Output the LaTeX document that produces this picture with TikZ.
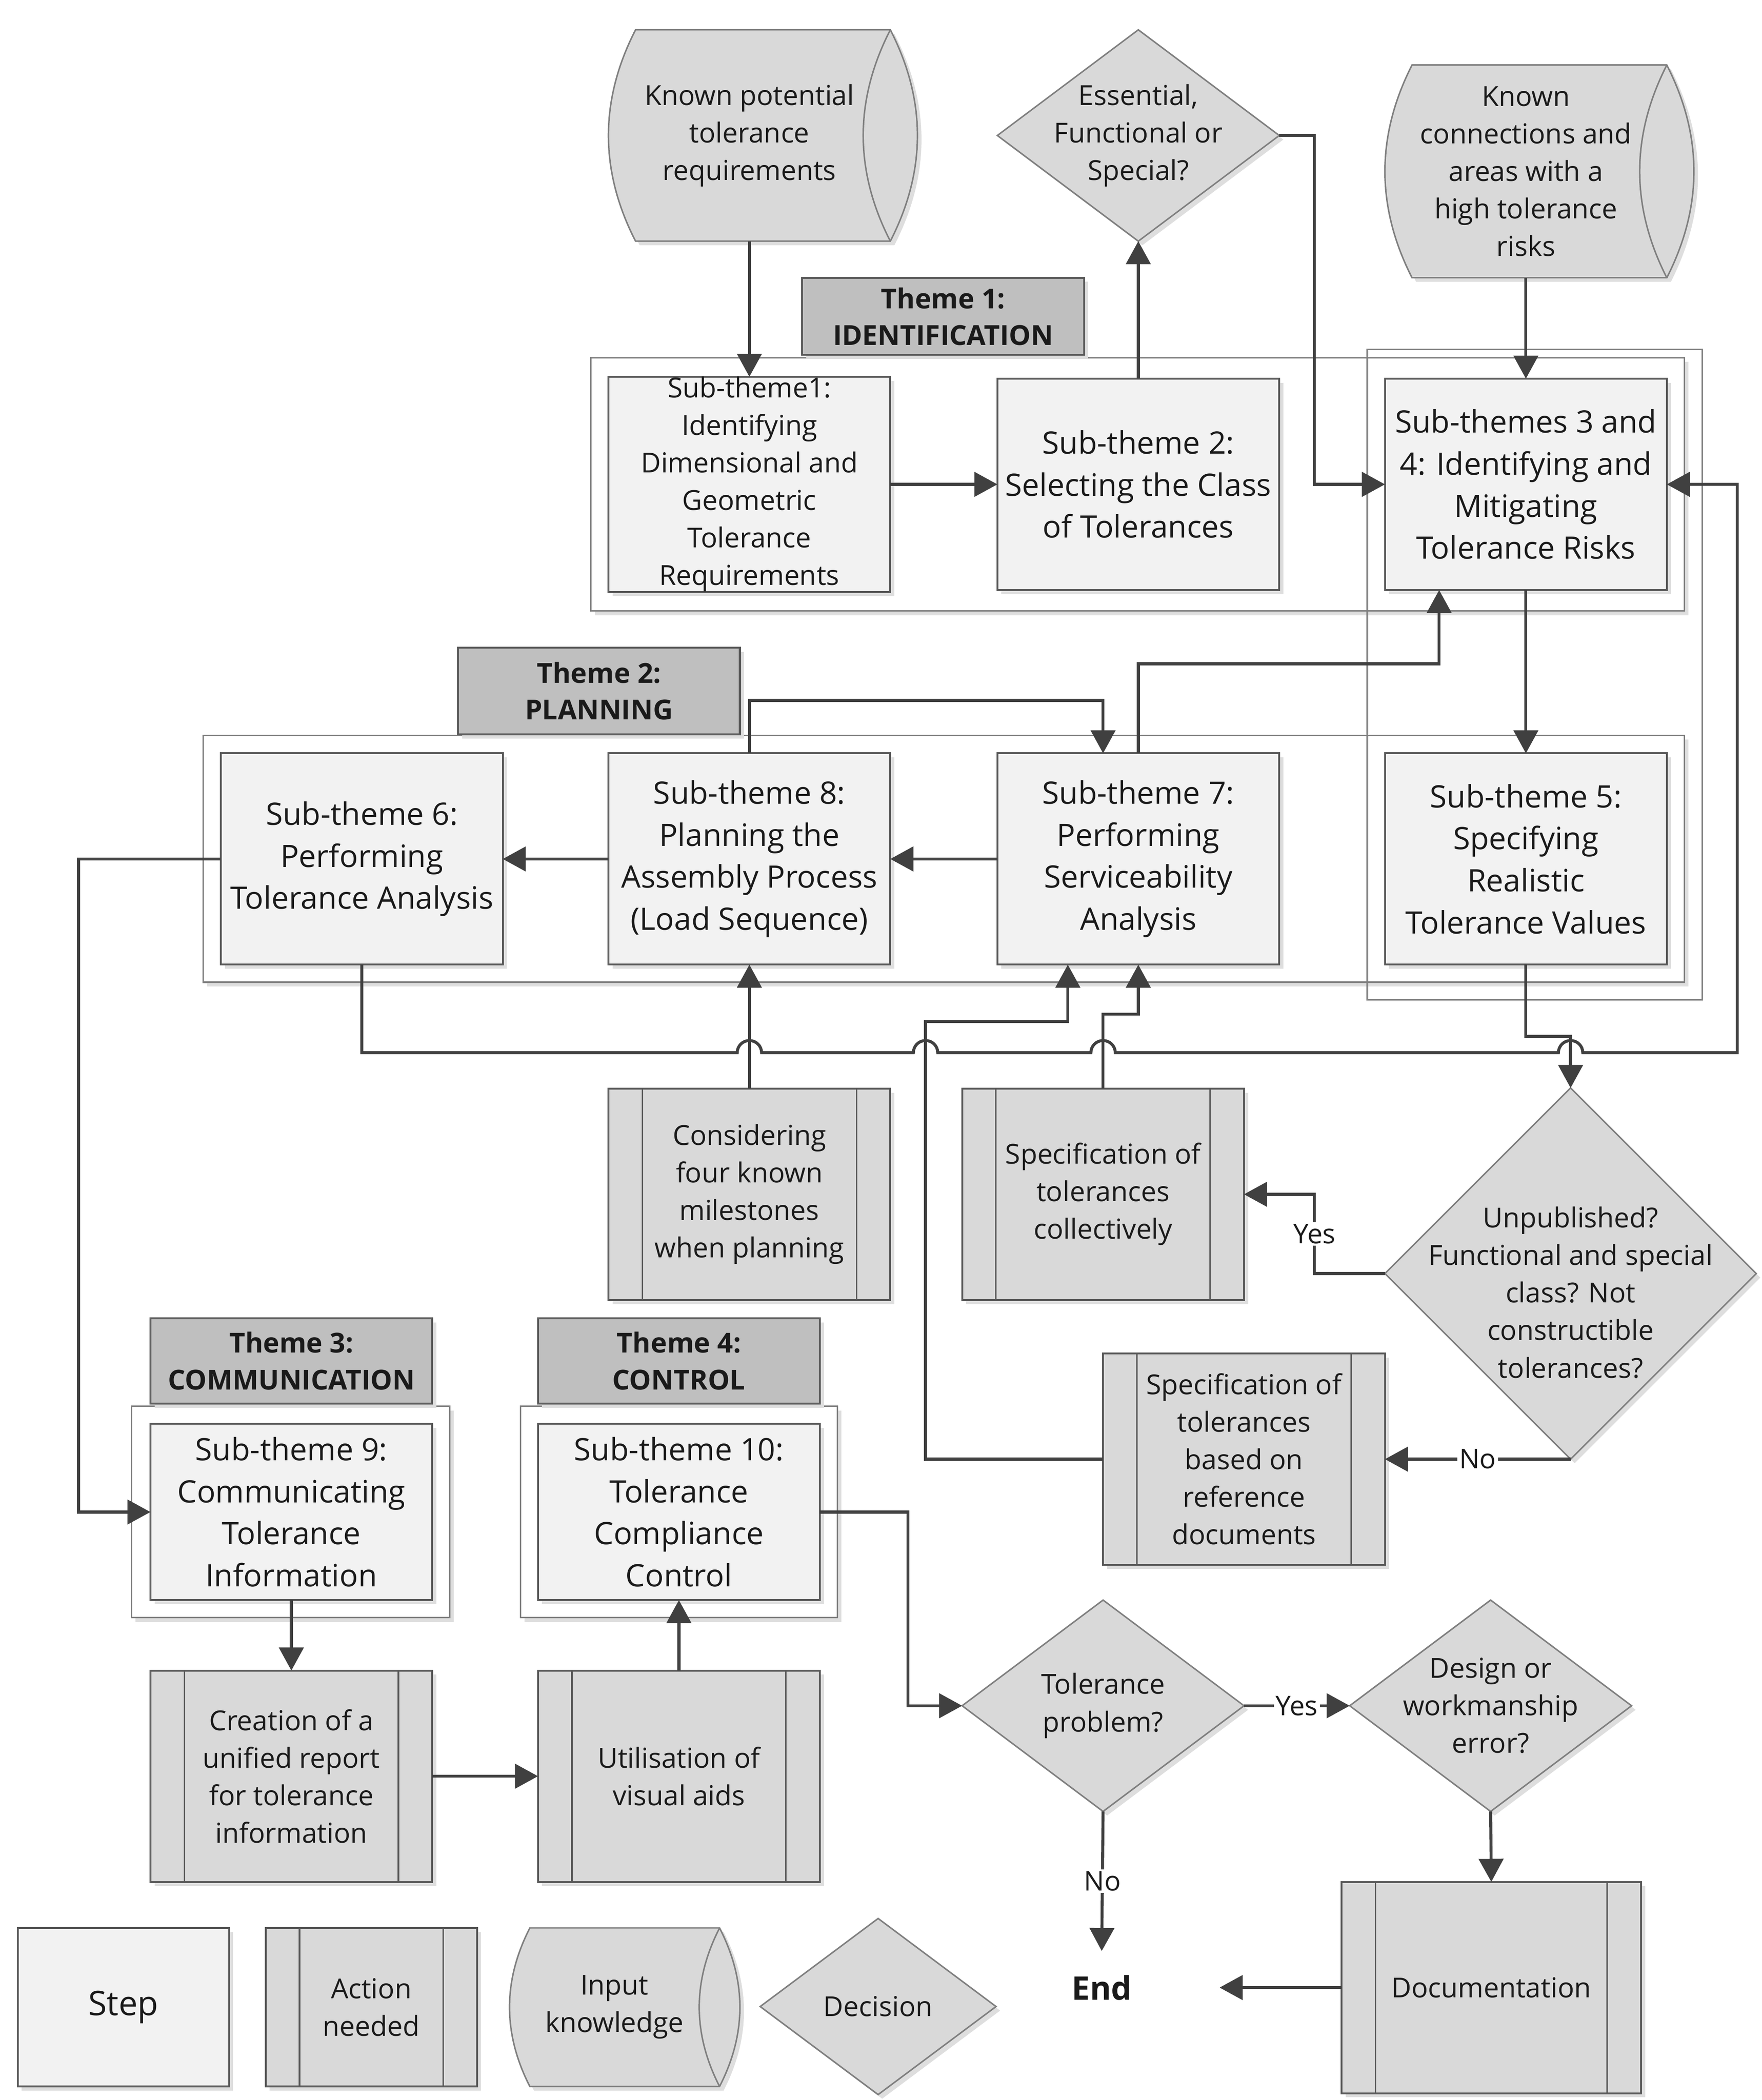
\documentclass[tikz,border=0pt]{standalone}
\usepackage{fontspec}
\setmainfont{Open Sans}
\usetikzlibrary{arrows.meta,shapes.geometric,shadows,calc}
\definecolor{stepfill}{HTML}{F2F2F2}
\definecolor{actfill}{HTML}{D9D9D9}
\definecolor{hdrfill}{HTML}{BFBFBF}
\definecolor{edgecol}{HTML}{595959}
\definecolor{thinedge}{HTML}{7F7F7F}
\definecolor{conncol}{HTML}{404040}
\definecolor{txtcol}{HTML}{1A1A1A}
\newcommand\ftbig{\fontsize{22.8}{31}\selectfont}
\newcommand\ftsmall{\fontsize{20.3}{27.7}\selectfont}
\newcommand\fthdr{\fontsize{20.3}{27}\selectfont\bfseries}
\newcommand\ftlbl{\fontsize{20}{24}\selectfont}
\newcommand\ftend{\fontsize{24}{30}\selectfont\bfseries}
\newcommand\ftstep{\fontsize{25}{30}\selectfont}
\newcommand\inshape[5]{%
 \path[draw=thinedge, line width=1.1pt, fill=actfill, shd]
  ({#1+#5},#3) -- (#2,#3)
  .. controls ({#2+4*#5/3},{#3+(#4-#3)/3}) and ({#2+4*#5/3},{#3+2*(#4-#3)/3}) .. (#2,#4)
  -- ({#1+#5},#4)
  .. controls ({#1-#5/3},{#3+2*(#4-#3)/3}) and ({#1-#5/3},{#3+(#4-#3)/3}) .. cycle;
 \draw[thinedge, line width=1.1pt] (#2,#3)
  .. controls ({#2-4*#5/3},{#3+(#4-#3)/3}) and ({#2-4*#5/3},{#3+2*(#4-#3)/3}) .. (#2,#4);
}
\tikzset{
 shd/.style={drop shadow={shadow xshift=3pt,shadow yshift=-3pt,fill=black!13,opacity=1}},
 base/.style={rectangle, inner sep=0pt, outer sep=0pt, align=center, text=txtcol, minimum width=208pt, minimum height=156pt},
 stepbox/.style={base, draw=edgecol, line width=1.4pt, fill=stepfill, shd, font=\ftbig},
 actbox/.style={base, draw=edgecol, line width=1.4pt, fill=actfill, shd, font=\ftsmall,
   path picture={\draw[edgecol, line width=1.1pt]
     ([xshift=25pt]path picture bounding box.north west) -- ([xshift=25pt]path picture bounding box.south west)
     ([xshift=-25pt]path picture bounding box.north east) -- ([xshift=-25pt]path picture bounding box.south east);}},
 hdrbox/.style={base, draw=edgecol, line width=1.4pt, fill=hdrfill, shd, font=\fthdr, minimum height=60pt},
 contbox/.style={rectangle, draw=thinedge, line width=1.1pt, fill=white, shd, inner sep=0pt, outer sep=0pt},
 grpbox/.style={rectangle, draw=thinedge, line width=1.1pt, inner sep=0pt, outer sep=0pt},
 decision/.style={diamond, draw=thinedge, line width=1.1pt, fill=actfill, shd, inner sep=0pt, outer sep=0pt, minimum width=208pt, minimum height=156pt},
 dtxt/.style={align=center, text=txtcol, font=\ftsmall, inner sep=0pt},
 intxt/.style={base, font=\ftsmall},
 conn/.style={draw=conncol, line width=2.2pt, -{Triangle[length=17pt,width=18pt]}},
 lbl/.style={fill=white, inner sep=1.5pt, text=txtcol, font=\ftlbl},
}
\begin{document}
\begin{tikzpicture}[x=1pt,y=-1pt]
\useasboundingbox (0,0) rectangle (1300,1550);
\fill[white] (0,0) rectangle (1300,1550);

% containers
\node[contbox, minimum width=807pt, minimum height=187pt] (c1) at (839.5,357.5) {};
\node[contbox, minimum width=1093pt, minimum height=182pt] (c2) at (696.5,634) {};
\node[contbox, minimum width=235pt, minimum height=156pt] (c3) at (214.5,1116) {};
\node[contbox, minimum width=234pt, minimum height=156pt] (c4) at (501,1116) {};
\node[grpbox, minimum width=247pt, minimum height=480pt] (grp) at (1132.5,498) {};

% headers
\node[hdrbox, minimum height=57pt] (h1) at (696,233.5) {Theme 1:\\IDENTIFICATION};
\node[hdrbox, minimum height=64pt] (h2) at (442,510) {Theme 2:\\PLANNING};
\node[hdrbox, minimum height=63pt] (h3) at (215,1004.5) {Theme 3:\\COMMUNICATION};
\node[hdrbox, minimum height=63pt] (h4) at (501,1004.5) {Theme 4:\\CONTROL};

% inputs
\inshape{449}{657}{22}{178}{20}
\node[intxt] (in1) at (553,100) {Known potential\\tolerance\\requirements};
\inshape{1022}{1230}{48}{205}{20}
\node[intxt, minimum height=157pt] (in2) at (1126,126.5) {Known\\connections and\\areas with a\\high tolerance\\risks};

% decision 1
\node[decision] (d1) at (840,100) {};
\node[dtxt] (d1t) at (d1) {Essential,\\Functional or\\Special?};

% steps
\node[stepbox, font=\ftsmall] (st1) at (553,357.5) {Sub-theme1:\\Identifying\\Dimensional and\\Geometric\\Tolerance\\Requirements};
\node[stepbox] (st2) at (840,357.5) {Sub-theme 2:\\Selecting the Class\\of Tolerances};
\node[stepbox] (st34) at (1126,357.5) {Sub-themes 3 and\\4: Identifying and\\Mitigating\\Tolerance Risks};
\node[stepbox] (st6) at (267,634) {Sub-theme 6:\\Performing\\Tolerance Analysis};
\node[stepbox] (st8) at (553,634) {Sub-theme 8:\\Planning the\\Assembly Process\\(Load Sequence)};
\node[stepbox] (st7) at (840,634) {Sub-theme 7:\\Performing\\Serviceability\\Analysis};
\node[stepbox] (st5) at (1126,634) {Sub-theme 5:\\Specifying\\Realistic\\Tolerance Values};
\node[stepbox, minimum height=130pt] (st9) at (215,1116) {Sub-theme 9:\\Communicating\\Tolerance\\Information};
\node[stepbox, minimum height=130pt] (st10) at (501,1116) {Sub-theme 10:\\Tolerance\\Compliance\\Control};

% actions
\node[actbox] (act1) at (553,881.5) {Considering\\four known\\milestones\\when planning};
\node[actbox] (act2) at (814,881.5) {Specification of\\tolerances\\collectively};
\node[actbox] (act3) at (918,1077) {Specification of\\tolerances\\based on\\reference\\documents};
\node[actbox] (act4) at (215,1311) {Creation of a\\unified report\\for tolerance\\information};
\node[actbox] (act5) at (501,1311) {Utilisation of\\visual aids};
\node[actbox, minimum width=221pt, font=\ftsmall] (doc) at (1100.5,1467) {Documentation};

% decisions
\node[decision, minimum width=274pt, minimum height=274pt] (d2) at (1159,940) {};
\node[dtxt] (d2t) at (1159,954) {Unpublished?\\Functional and special\\class? Not\\constructible\\tolerances?};
\node[decision] (d3) at (814,1259) {};
\node[dtxt] (d3t) at (d3) {Tolerance\\problem?};
\node[decision] (d4) at (1100,1259) {};
\node[dtxt] (d4t) at (d4) {Design or\\workmanship\\error?};
\node[inner sep=0pt, outer sep=0pt, minimum width=174pt, minimum height=54pt, font=\ftend, text=txtcol] (endn) at (813,1467) {End};

% legend
\node[stepbox, minimum width=156pt, minimum height=117pt, font=\ftstep] (lstep) at (91,1481.5) {Step};
\node[actbox, minimum width=156pt, minimum height=117pt] (lact) at (274,1481.5) {Action\\needed};
\inshape{376}{531}{1423}{1540}{15}
\node[intxt, minimum width=155pt, minimum height=117pt] (lin) at (453.5,1481.5) {Input\\knowledge};
\node[decision, minimum width=174pt, minimum height=130pt] (ldec) at (648,1481) {};
\node[dtxt] (ldect) at (ldec) {Decision};

% connectors
\draw[conn] (in1.south) -- (st1.north);
\draw[conn] (st1.east) -- (st2.west);
\draw[conn] (st2.north) -- (d1.south);
\draw[conn] (d1.east) -- ++(26,0) |- (st34.west);
\draw[conn] (in2.south) -- (st34.north);
\draw[conn] (st34.south) -- (st5.north);
\draw[conn] (st7.west) -- (st8.east);
\draw[conn] (st8.west) -- (st6.east);
\draw[conn] (st8.north) -- ++(0,-39) -| ([xshift=-26pt]st7.north);
\draw[conn] (st7.north) -- ++(0,-66) -| ([xshift=-64pt]st34.south);
\draw[conn] (st6.south) -- (267,777) -- (544,777) arc[start angle=180,end angle=0,radius=9pt]
  -- (674,777) arc[start angle=180,end angle=0,radius=9pt]
  -- (805,777) arc[start angle=180,end angle=0,radius=9pt]
  -- (1150,777) arc[start angle=180,end angle=0,radius=9pt]
  -- (1282,777) |- (st34.east);
\draw[conn] (act1.north) -- (st8.south);
\draw[conn] (act2.north) -- ++(0,-55) -| (st7.south);
\draw[conn] (act3.west) -| (683,754) -| ([xshift=-52pt]st7.south);
\draw[conn] (st5.south) -- ++(0,53) -| (d2.north);
\draw[conn] (d2.west) -- ++(-52,0) |- node[lbl, pos=0.25] {Yes} (act2.east);
\draw[conn] (d2.south) -- node[lbl] {No} (act3.east);
\draw[conn] (st6.west) -- ++(-105,0) |- (st9.west);
\draw[conn] (st9.south) -- (act4.north);
\draw[conn] (act4.east) -- (act5.west);
\draw[conn] (act5.north) -- (st10.south);
\draw[conn] (st10.east) -- ++(65,0) |- (d3.west);
\draw[conn] (d3.east) -- node[lbl] {Yes} (d4.west);
\draw[conn] (d3.south) -- node[lbl] {No} (endn.north);
\draw[conn] (d4.south) -- (doc.north);
\draw[conn] (doc.west) -- (endn.east);
\end{tikzpicture}
\end{document}
